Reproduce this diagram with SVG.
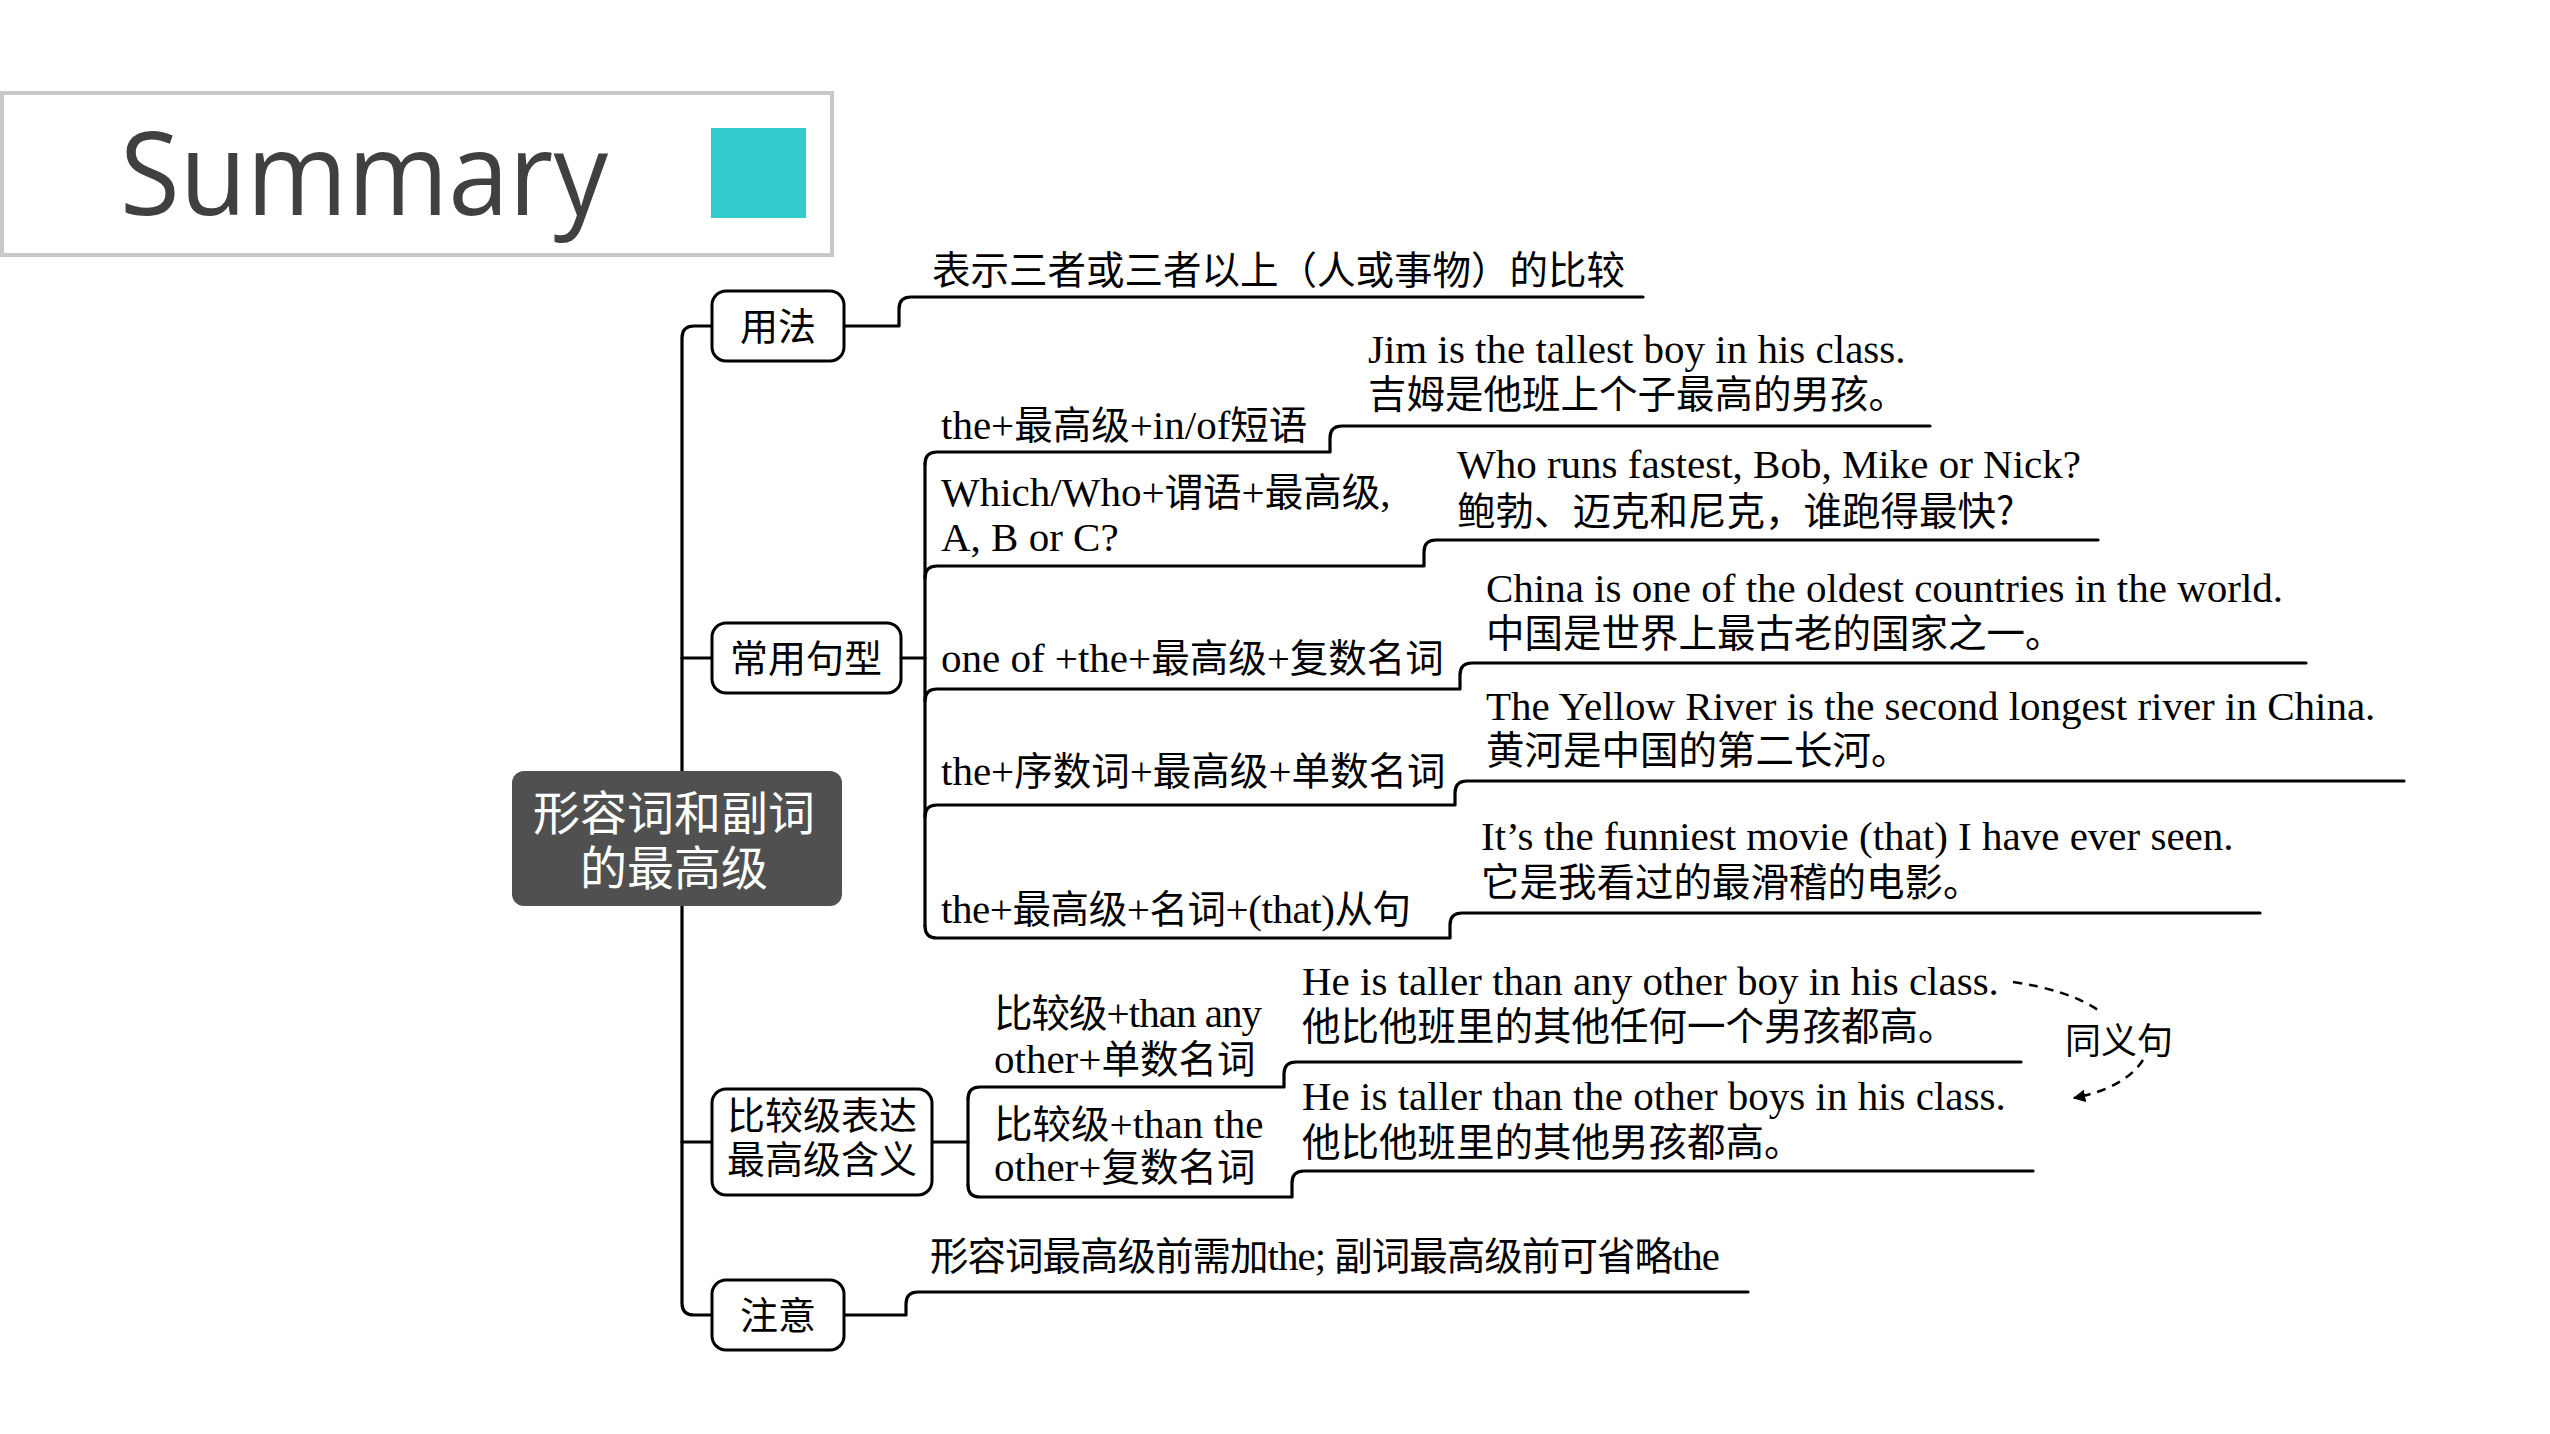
<svg xmlns="http://www.w3.org/2000/svg" width="2550" height="1434" viewBox="0 0 2550 1434">
<style>
.s{font-family:"Liberation Serif","Noto Sans CJK SC",serif;font-size:41px;fill:#000}
.c{font-family:"Noto Sans CJK SC",sans-serif;font-size:38.5px}
.n{font-family:"Noto Sans CJK SC","Noto Sans",sans-serif;font-size:38px;fill:#000;text-anchor:middle}
.box{fill:#fff;stroke:#000;stroke-width:3}
.ln{fill:none;stroke:#000;stroke-width:3.2;stroke-linecap:round;stroke-linejoin:round}
.dash{fill:none;stroke:#000;stroke-width:2.5;stroke-dasharray:9 7}
</style>
<defs>
<marker id="ah" viewBox="0 0 10 10" refX="9" refY="5" markerWidth="5" markerHeight="5" orient="auto-start-reverse" markerUnits="strokeWidth">
<path d="M0 0 L10 5 L0 10 Z" fill="#000"/>
</marker>
</defs>
<rect width="2550" height="1434" fill="#fff"/>
<g id="title">
<rect x="2" y="93" width="830" height="162" fill="#fff" stroke="#c8c8c8" stroke-width="4"/>
<text x="120" y="215" font-family="Open Sans, Noto Sans, sans-serif" font-size="116" fill="#404040" textLength="488" lengthAdjust="spacingAndGlyphs">Summary</text>
<rect x="711" y="128" width="95" height="90" fill="#33cccc"/>
</g>
<g id="connectors">
<path class="ln" d="M712 326 H694 Q682 326 682 338 V1303 Q682 1315 694 1315 H712"/>
<path class="ln" d="M682 658 H712"/>
<path class="ln" d="M682 1142 H712"/>
<path class="ln" d="M844 326 H899 V309 Q899 297 911 297 H1643"/>
<path class="ln" d="M844 1315 H906 V1304 Q906 1292 918 1292 H1748"/>
<path class="ln" d="M901 658 H925"/>
<path class="ln" d="M925 464 V926"/>
<path class="ln" d="M925 464 Q925 452 937 452 H1330 V438 Q1330 426 1342 426 H1930"/>
<path class="ln" d="M925 578 Q925 566 937 566 H1424 V552 Q1424 540 1436 540 H2098"/>
<path class="ln" d="M925 701 Q925 689 937 689 H1460 V675 Q1460 663 1472 663 H2306"/>
<path class="ln" d="M925 817 Q925 805 937 805 H1455 V793 Q1455 781 1467 781 H2404"/>
<path class="ln" d="M925 926 Q925 938 937 938 H1450 V925 Q1450 913 1462 913 H2260"/>
<path class="ln" d="M932 1142 H968"/>
<path class="ln" d="M968 1099 V1185"/>
<path class="ln" d="M968 1099 Q968 1087 980 1087 H1284 V1074 Q1284 1062 1296 1062 H2021"/>
<path class="ln" d="M968 1185 Q968 1197 980 1197 H1292 V1183 Q1292 1171 1304 1171 H2033"/>
<path class="dash" d="M2013 982 Q2068 990 2098 1010"/>
<path class="dash" d="M2143 1060 Q2125 1088 2074 1098" marker-end="url(#ah)"/>
</g>
<g id="center">
<rect x="512" y="771" width="330" height="135" rx="12" fill="#505050"/>
<text x="674" y="830" font-family="Noto Sans CJK SC, sans-serif" font-size="47" fill="#fff" text-anchor="middle">形容词和副词</text>
<text x="674" y="885" font-family="Noto Sans CJK SC, sans-serif" font-size="47" fill="#fff" text-anchor="middle">的最高级</text>
</g>
<g id="node-yongfa">
<rect class="box" x="712" y="291" width="132" height="70" rx="14"/>
<text class="n" x="778" y="340">用法</text>
</g>
<g id="node-changyong">
<rect class="box" x="712" y="623" width="189" height="70" rx="14"/>
<text class="n" x="806" y="672">常用句型</text>
</g>
<g id="node-bijiao">
<rect class="box" x="712" y="1089" width="220" height="106" rx="14"/>
<text class="n" x="822" y="1129">比较级表达</text>
<text class="n" x="822" y="1173">最高级含义</text>
</g>
<g id="node-zhuyi">
<rect class="box" x="712" y="1280" width="132" height="70" rx="14"/>
<text class="n" x="778" y="1329">注意</text>
</g>
<g id="yongfa-leaf">
<text class="s c" x="932" y="284">表示三者或三者以上（人或事物）的比较</text>
</g>
<g id="item1">
<text class="s" x="941" y="439">the+<tspan class="c">最高级</tspan>+in/of<tspan class="c">短语</tspan></text>
<text class="s" x="1368" y="363">Jim is the tallest boy in his class.</text>
<text class="s c" x="1368" y="408">吉姆是他班上个子最高的男孩。</text>
</g>
<g id="item2">
<text class="s" x="941" y="506">Which/Who+<tspan class="c">谓语</tspan>+<tspan class="c">最高级</tspan>,</text>
<text class="s" x="941" y="551">A, B or C?</text>
<text class="s" x="1457" y="478">Who runs fastest, Bob, Mike or Nick?</text>
<text class="s c" x="1457" y="525">鲍勃、迈克和尼克，谁跑得最快?</text>
</g>
<g id="item3">
<text class="s" x="941" y="672">one of +the+<tspan class="c">最高级</tspan>+<tspan class="c">复数名词</tspan></text>
<text class="s" x="1486" y="602">China is one of the oldest countries in the world.</text>
<text class="s c" x="1486" y="647">中国是世界上最古老的国家之一。</text>
</g>
<g id="item4">
<text class="s" x="941" y="785">the+<tspan class="c">序数词</tspan>+<tspan class="c">最高级</tspan>+<tspan class="c">单数名词</tspan></text>
<text class="s" x="1486" y="720">The Yellow River is the second longest river in China.</text>
<text class="s c" x="1486" y="764">黄河是中国的第二长河。</text>
</g>
<g id="item5">
<text class="s" x="941" y="923" textLength="470">the+<tspan class="c">最高级</tspan>+<tspan class="c">名词</tspan>+(that)<tspan class="c">从句</tspan></text>
<text class="s" x="1481" y="850">It’s the funniest movie (that) I have ever seen.</text>
<text class="s c" x="1481" y="896">它是我看过的最滑稽的电影。</text>
</g>
<g id="itemA">
<text class="s" x="994" y="1027" textLength="268"><tspan class="c">比较级</tspan>+than any</text>
<text class="s" x="994" y="1073">other+<tspan class="c">单数名词</tspan></text>
<text class="s" x="1302" y="995">He is taller than any other boy in his class.</text>
<text class="s c" x="1302" y="1040">他比他班里的其他任何一个男孩都高。</text>
</g>
<g id="itemB">
<text class="s" x="994" y="1138"><tspan class="c">比较级</tspan>+than the</text>
<text class="s" x="994" y="1181">other+<tspan class="c">复数名词</tspan></text>
<text class="s" x="1302" y="1110">He is taller than the other boys in his class.</text>
<text class="s c" x="1302" y="1156">他比他班里的其他男孩都高。</text>
</g>
<g id="synonym">
<text class="s c" x="2065" y="1054" style="font-size:36px">同义句</text>
</g>
<g id="zhuyi-leaf">
<text class="s" x="930" y="1270" textLength="790"><tspan class="c">形容词最高级前需加</tspan>the; <tspan class="c">副词最高级前可省略</tspan>the</text>
</g>
</svg>
